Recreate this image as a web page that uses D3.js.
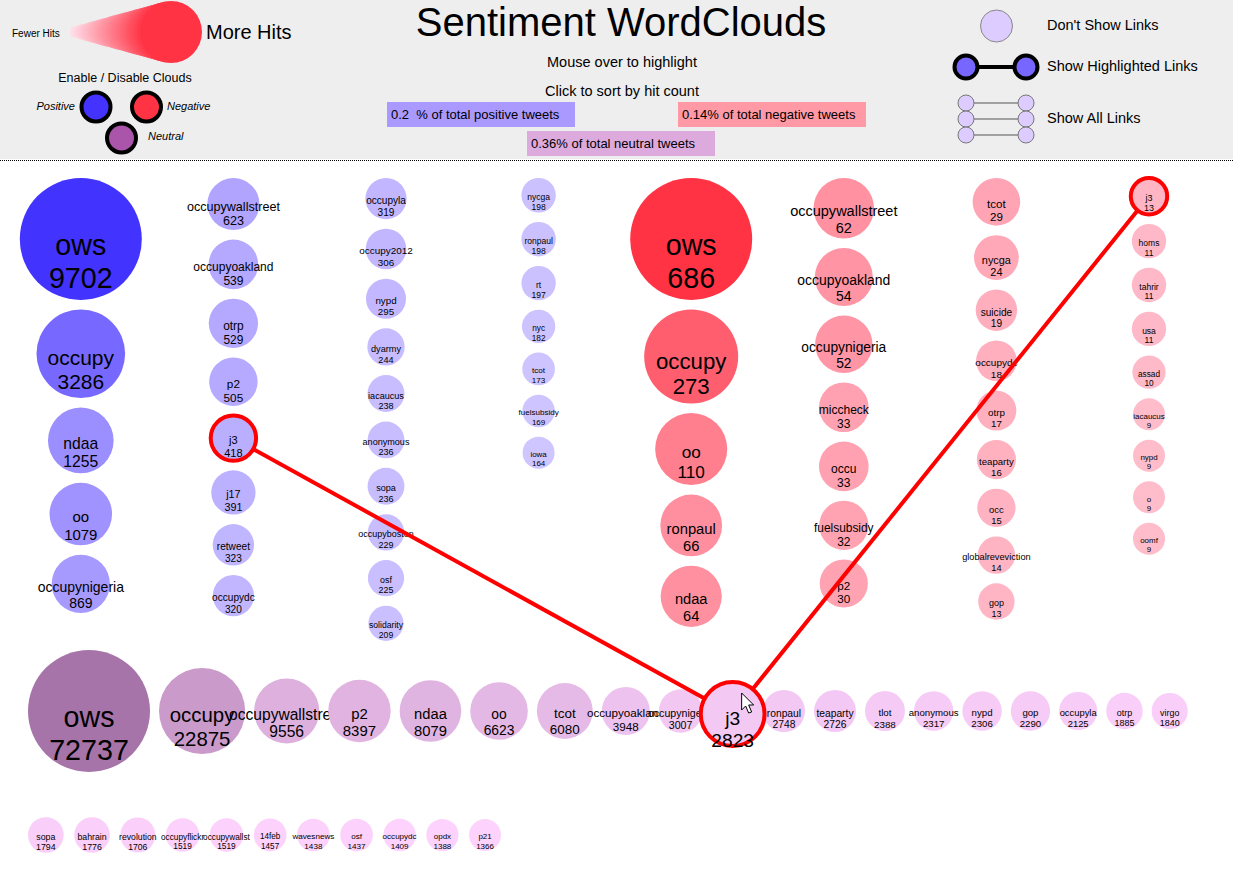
<!DOCTYPE html>
<html>
<head>
<meta charset="utf-8">
<script src="https://cdn.jsdelivr.net/npm/d3@7"></script>
<style>
  body { margin: 0; background: #fff; overflow: hidden; }
  text { font-family: 'Liberation Sans', Arial, sans-serif; fill: #000; }
</style>
</head>
<body>
<div id="clouds"></div>
<script>
// hashtag hit counts, per sentiment cloud, in the order they are laid out
var posWords = ['ows', 'occupy', 'ndaa', 'oo', 'occupynigeria', 'occupywallstreet', 'occupyoakland', 'otrp', 'p2', 'j3',
  'j17', 'retweet', 'occupydc', 'occupyla', 'occupy2012', 'nypd', 'dyarmy', 'iacaucus', 'anonymous', 'sopa',
  'occupyboston', 'osf', 'solidarity', 'nycga', 'ronpaul', 'rt', 'nyc', 'tcot', 'fuelsubsidy', 'iowa']
var posHits = [9702, 3286, 1255, 1079, 869, 623, 539, 529, 505, 418,
  391, 323, 320, 319, 306, 295, 244, 238, 236, 236,
  229, 225, 209, 198, 198, 197, 182, 173, 169, 164]

var negWords = ['ows', 'occupy', 'oo', 'ronpaul', 'ndaa', 'occupywallstreet', 'occupyoakland', 'occupynigeria', 'miccheck', 'occu',
  'fuelsubsidy', 'p2', 'tcot', 'nycga', 'suicide', 'occupydc', 'otrp', 'teaparty', 'occ', 'globalreveviction',
  'gop', 'j3', 'homs', 'tahrir', 'usa', 'assad', 'iacaucus', 'nypd', 'o', 'oomf']
var negHits = [686, 273, 110, 66, 64, 62, 54, 52, 33, 33,
  32, 30, 29, 24, 19, 18, 17, 16, 15, 14,
  13, 13, 11, 11, 11, 10, 9, 9, 9, 9]

var neuWords = ['ows', 'occupy', 'occupywallstreet', 'p2', 'ndaa', 'oo', 'tcot', 'occupyoakland', 'occupynigeria', 'j3',
  'ronpaul', 'teaparty', 'tlot', 'anonymous', 'nypd', 'gop', 'occupyla', 'otrp', 'virgo', 'sopa',
  'bahrain', 'revolution', 'occupyflickr', 'occupywallst', '14feb', 'wavesnews', 'osf', 'occupydc', 'opdx', 'p21']
var neuHits = [72737, 22875, 9556, 8397, 8079, 6623, 6080, 3948, 3007, 2823,
  2748, 2726, 2388, 2317, 2306, 2290, 2125, 1885, 1840, 1794,
  1776, 1706, 1519, 1519, 1457, 1438, 1437, 1409, 1388, 1366]

var pctLabels = ['0.2  % of total positive tweets', '0.14% of total negative tweets', '0.36% of total neutral tweets']
var linkLabels = ["Don't Show Links", 'Show Highlighted Links', 'Show All Links']
var cloudLabels = ['Positive', 'Negative', 'Neutral']

var highlight = 'j3'

var W = 1233, H = 888
var svg = d3.select('#clouds').append('svg')
  .attr('width', W)
  .attr('height', H)

// header strip
svg.append('rect').attr('x', 0).attr('y', 0).attr('width', W).attr('height', 159).attr('fill', '#eeeeee')
svg.append('line')
  .attr('x1', 0).attr('x2', W).attr('y1', 160.5).attr('y2', 160.5)
  .attr('stroke', '#000').attr('stroke-dasharray', '1,1')

svg.append('text').attr('x', 621).attr('y', 36).attr('text-anchor', 'middle')
  .style('font-size', '40px').text('Sentiment WordClouds')
svg.append('text').attr('x', 622).attr('y', 67).attr('text-anchor', 'middle')
  .style('font-size', '14.5px').text('Mouse over to highlight')
svg.append('text').attr('x', 622).attr('y', 96).attr('text-anchor', 'middle')
  .style('font-size', '14.5px').text('Click to sort by hit count')

// percent boxes
var pctBoxes = [
  {x: 387, y: 102, fill: '#aa99ff'},
  {x: 678, y: 102, fill: '#ff99a6'},
  {x: 527, y: 131, fill: '#ddaadd'}
]
pctBoxes.forEach(function(b, i) {
  svg.append('rect').attr('x', b.x).attr('y', b.y).attr('width', 188).attr('height', 25).attr('fill', b.fill)
  svg.append('text').attr('x', b.x + 4).attr('y', b.y + 17)
    .style('font-size', '13px').style('white-space', 'pre').text(pctLabels[i])
})

// fewer / more hits cone
var cone = d3.range(0, 1.0001, 1 / 24)
var coneX = d3.scaleLinear().domain([0, 1]).range([76, 171])
var coneR = d3.scaleLinear().domain([0, 1]).range([6, 31])
var coneC = d3.scaleLinear().domain([0, 1]).range(['#ffdde8', '#ff3344']).interpolate(d3.interpolateRgb)
svg.append('g').selectAll('circle').data(cone).join('circle')
  .attr('cx', function(t) { return coneX(t) })
  .attr('cy', 32)
  .attr('r', function(t) { return coneR(t) })
  .attr('fill', function(t) { return coneC(t) })
svg.append('text').attr('x', 12).attr('y', 37).style('font-size', '10px').text('Fewer Hits')
svg.append('text').attr('x', 206).attr('y', 39).style('font-size', '20px').text('More Hits')

// enable / disable clouds
svg.append('text').attr('x', 125).attr('y', 82).attr('text-anchor', 'middle')
  .style('font-size', '12.5px').text('Enable / Disable Clouds')
var toggles = [
  {cx: 96, cy: 107, fill: '#4433ff', tx: 75, ty: 110, anchor: 'end'},
  {cx: 146.5, cy: 107, fill: '#ff3344', tx: 167, ty: 110, anchor: 'start'},
  {cx: 121.5, cy: 138, fill: '#aa55aa', tx: 148, ty: 140, anchor: 'start'}
]
toggles.forEach(function(t, i) {
  svg.append('circle').attr('cx', t.cx).attr('cy', t.cy).attr('r', 14.5)
    .attr('fill', t.fill).attr('stroke', '#000').attr('stroke-width', 4)
  svg.append('text').attr('x', t.tx).attr('y', t.ty).attr('text-anchor', t.anchor)
    .style('font-size', '11px').style('font-style', 'italic').text(cloudLabels[i])
})

// link mode legend
svg.append('circle').attr('cx', 996.5).attr('cy', 26).attr('r', 16)
  .attr('fill', '#dcccff').attr('stroke', '#888').attr('stroke-width', 1)
svg.append('line').attr('x1', 966).attr('x2', 1026).attr('y1', 67).attr('y2', 67)
  .attr('stroke', '#000').attr('stroke-width', 4)
;[966, 1026].forEach(function(cx) {
  svg.append('circle').attr('cx', cx).attr('cy', 67).attr('r', 11.5)
    .attr('fill', '#7766ff').attr('stroke', '#000').attr('stroke-width', 4)
})
;[103, 119, 135].forEach(function(cy) {
  svg.append('line').attr('x1', 966).attr('x2', 1026).attr('y1', cy).attr('y2', cy)
    .attr('stroke', '#555').attr('stroke-width', 1.2)
  ;[966, 1026].forEach(function(cx) {
    svg.append('circle').attr('cx', cx).attr('cy', cy).attr('r', 8)
      .attr('fill', '#dcccff').attr('stroke', '#777').attr('stroke-width', 1)
  })
})
;[30, 71, 123].forEach(function(y, i) {
  svg.append('text').attr('x', 1047).attr('y', y).style('font-size', '14.5px').text(linkLabels[i])
})

// ---- clouds ----
function rScale(hits) {
  return d3.scalePow().exponent(0.25).domain(d3.extent(hits)).range([16, 61])
}
function cScale(hits, light, dark) {
  return d3.scalePow().exponent(0.25).domain(d3.extent(hits)).range([light, dark]).interpolate(d3.interpolateRgb)
}
function fontSize(r) { return 0.46 * r + 0.6 }

var colX = d3.scaleLinear().domain([0, 8]).range([4.5, 4.5 + 152.6 * 8])
var colTop = 178, colBottom = 652, gap = 9.5

function columnLayout(words, hits, firstCol, light, dark) {
  var r = rScale(hits), c = cScale(hits, light, dark)
  var col = firstCol, y = colTop, nodes = []
  words.forEach(function(w, i) {
    var rad = r(hits[i])
    if (y + 2 * rad > colBottom && y > colTop) { col++; y = colTop }
    nodes.push({word: w, hits: hits[i], cx: colX(col + 0.5), cy: y + rad, r: rad, f: fontSize(rad), fill: c(hits[i])})
    y += 2 * rad + gap
  })
  return nodes
}

function rowLayout(words, hits, light, dark) {
  var r = rScale(hits), c = cScale(hits, light, dark)
  var rowY = [711, 835], row = 0, x = 28, nodes = []
  words.forEach(function(w, i) {
    var rad = r(hits[i])
    if (x + 2 * rad > 1210) { row++; x = 28 }
    nodes.push({word: w, hits: hits[i], cx: x + rad, cy: rowY[row], r: rad, f: fontSize(rad), fill: c(hits[i])})
    x += 2 * rad + (row === 0 ? 9 : 10.5)
  })
  return nodes
}

var posNodes = columnLayout(posWords, posHits, 0, '#cfc5ff', '#4333ff')
var negNodes = columnLayout(negWords, negHits, 4, '#ffbccb', '#ff3344')
var neuNodes = rowLayout(neuWords, neuHits, '#fdd3fd', '#a674a8')

// the hovered neutral node grows
neuNodes.forEach(function(d) {
  if (d.word === highlight) { d.r = d.r * 1.5; d.f = d.f * 1.85; d.cy += 3 }
})

var gNodes = svg.append('g')
var gLinks = svg.append('g')
var gTop = svg.append('g')

function drawNode(parent, d) {
  var g = parent.append('g')
  g.append('circle')
    .attr('cx', d.cx).attr('cy', d.cy).attr('r', d.r)
    .attr('fill', d.fill)
    .attr('stroke', d.word === highlight ? '#ff0000' : 'none')
    .attr('stroke-width', 4)
  g.append('text').attr('x', d.cx).attr('y', d.cy + 0.55 * d.f)
    .attr('text-anchor', 'middle').style('font-size', d.f + 'px').text(d.word)
  g.append('text').attr('x', d.cx).attr('y', d.cy + 1.7 * d.f)
    .attr('text-anchor', 'middle').style('font-size', d.f + 'px').text(d.hits)
}

var all = posNodes.concat(negNodes).concat(neuNodes)
all.forEach(function(d) {
  drawNode(d.word === highlight ? gTop : gNodes, d)
})

// links from the highlighted neutral tag to the same tag in the other clouds
var hub = neuNodes.filter(function(d) { return d.word === highlight })[0]
var ends = posNodes.concat(negNodes).filter(function(d) { return d.word === highlight })
gLinks.selectAll('line').data(ends).join('line')
  .attr('x1', function(d) { return d.cx })
  .attr('y1', function(d) { return d.cy })
  .attr('x2', hub.cx)
  .attr('y2', hub.cy)
  .attr('stroke', '#ff0000')
  .attr('stroke-width', 4)

// mouse pointer
svg.append('path')
  .attr('transform', 'translate(' + (hub.cx + 9) + ',' + (hub.cy - 21) + ')')
  .attr('d', 'M0,0 L0,17 L4,13 L7,20 L10,19 L7,12 L12,12 Z')
  .attr('fill', '#fff').attr('stroke', '#000').attr('stroke-width', 1)
</script>
</body>
</html>
